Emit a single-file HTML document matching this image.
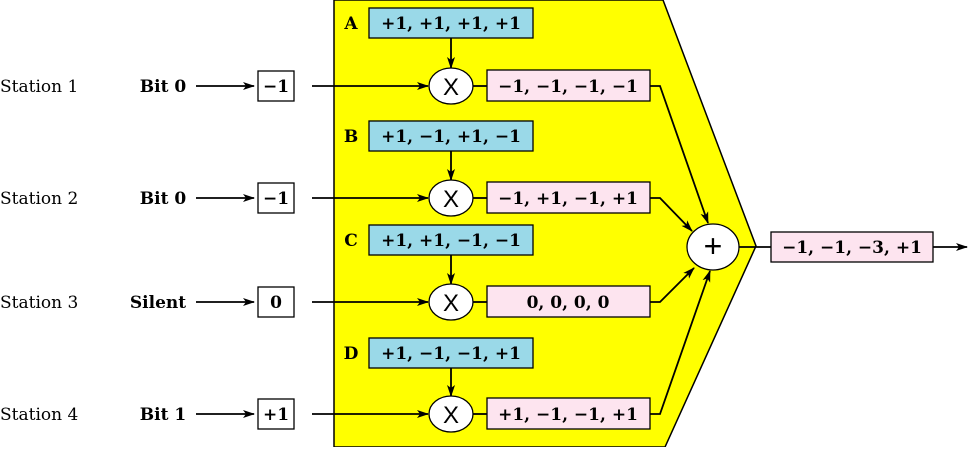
<!DOCTYPE html>
<html><head><style>body{margin:0;background:#fff}svg text{font-family:"DejaVu Serif","Liberation Serif",serif}</style></head><body>
<svg width="969" height="447" viewBox="0 0 969 447" xmlns="http://www.w3.org/2000/svg">
<defs><marker id="a" markerWidth="12" markerHeight="8" refX="11" refY="4" orient="auto" markerUnits="userSpaceOnUse"><path d="M0,0 L12,4 L0,8 L3,4 Z" fill="#000"/></marker></defs>
<polygon points="334,0 663,0 756,246 665,447 334,447" fill="#ffff00" stroke="#000" stroke-width="1.5"/>
<g font-size="17" text-anchor="middle">
<g id="rows">
</g>
</g>
<g stroke="#000" stroke-width="1.8" fill="none">
<!-- inputs -->
<line x1="196" y1="86" x2="254" y2="86" marker-end="url(#a)"/>
<line x1="196" y1="198" x2="254" y2="198" marker-end="url(#a)"/>
<line x1="196" y1="302" x2="254" y2="302" marker-end="url(#a)"/>
<line x1="196" y1="414" x2="254" y2="414" marker-end="url(#a)"/>
<line x1="312" y1="86" x2="428" y2="86" marker-end="url(#a)"/>
<line x1="312" y1="198" x2="428" y2="198" marker-end="url(#a)"/>
<line x1="312" y1="302" x2="428" y2="302" marker-end="url(#a)"/>
<line x1="312" y1="414" x2="428" y2="414" marker-end="url(#a)"/>
<line x1="451" y1="38" x2="451" y2="68" marker-end="url(#a)"/>
<line x1="451" y1="151" x2="451" y2="180" marker-end="url(#a)"/>
<line x1="451" y1="255" x2="451" y2="284" marker-end="url(#a)"/>
<line x1="451" y1="368" x2="451" y2="396" marker-end="url(#a)"/>
<line x1="473" y1="86" x2="487" y2="86"/><line x1="473" y1="198" x2="487" y2="198"/><line x1="473" y1="302" x2="487" y2="302"/><line x1="473" y1="414" x2="487" y2="414"/>
<polyline points="650,86 660,86 708,223" marker-end="url(#a)"/>
<polyline points="650,198 660,198 692,231" marker-end="url(#a)"/>
<polyline points="650,302 660,302 694,268" marker-end="url(#a)"/>
<polyline points="650,414 660,414 710,271" marker-end="url(#a)"/>
<line x1="739" y1="247" x2="771" y2="247"/>
<line x1="933" y1="247" x2="967" y2="247" marker-end="url(#a)"/>
</g>
<g stroke="#000" stroke-width="1.3">
<rect x="258" y="71" width="36" height="30" fill="#fff"/>
<rect x="258" y="183" width="36" height="30" fill="#fff"/>
<rect x="258" y="287" width="36" height="30" fill="#fff"/>
<rect x="258" y="399" width="36" height="30" fill="#fff"/>
<rect x="369" y="8" width="164" height="30" fill="#9ad9e8"/>
<rect x="369" y="121" width="164" height="30" fill="#9ad9e8"/>
<rect x="369" y="225" width="164" height="30" fill="#9ad9e8"/>
<rect x="369" y="338" width="164" height="30" fill="#9ad9e8"/>
<rect x="487" y="70" width="163" height="31" fill="#fde4ef"/>
<rect x="487" y="182" width="163" height="31" fill="#fde4ef"/>
<rect x="487" y="286" width="163" height="31" fill="#fde4ef"/>
<rect x="487" y="398" width="163" height="31" fill="#fde4ef"/>
<rect x="771" y="232" width="162" height="30" fill="#fde4ef"/>
<ellipse cx="451" cy="86" rx="22" ry="18" fill="#fff"/>
<ellipse cx="451" cy="198" rx="22" ry="18" fill="#fff"/>
<ellipse cx="451" cy="302" rx="22" ry="18" fill="#fff"/>
<ellipse cx="451" cy="414" rx="22" ry="18" fill="#fff"/>
<ellipse cx="713" cy="247" rx="26" ry="23" fill="#fff"/>
</g>
<g font-size="17">
<text x="0" y="92">Station 1</text><text x="0" y="204">Station 2</text><text x="0" y="308">Station 3</text><text x="0" y="420">Station 4</text>
</g>
<g font-size="17" font-weight="bold" text-anchor="middle">
<text x="163" y="92">Bit 0</text><text x="163" y="204">Bit 0</text><text x="158" y="308">Silent</text><text x="163" y="420">Bit 1</text>
<text x="276" y="92">−1</text><text x="276" y="204">−1</text><text x="276" y="308">0</text><text x="276" y="420">+1</text>
<text x="351" y="29">A</text><text x="351" y="142">B</text><text x="351" y="246">C</text><text x="351" y="359">D</text>
<text x="451" y="29">+1, +1, +1, +1</text><text x="451" y="142">+1, −1, +1, −1</text><text x="451" y="246">+1, +1, −1, −1</text><text x="451" y="359">+1, −1, −1, +1</text>
<text x="568" y="92">−1, −1, −1, −1</text><text x="568" y="204">−1, +1, −1, +1</text><text x="568" y="308">0, 0, 0, 0</text><text x="568" y="420">+1, −1, −1, +1</text>
<text x="852" y="253">−1, −1, −3, +1</text>
</g>
<g font-family="Liberation Sans,sans-serif" font-size="24" text-anchor="middle">
<text x="451" y="95" style="font-family:'Liberation Sans',sans-serif">X</text><text x="451" y="207" style="font-family:'Liberation Sans',sans-serif">X</text><text x="451" y="311" style="font-family:'Liberation Sans',sans-serif">X</text><text x="451" y="423" style="font-family:'Liberation Sans',sans-serif">X</text>
<text x="713" y="257" font-size="32" style="font-family:'Liberation Sans',sans-serif">+</text>
</g>
</svg>
</body></html>
